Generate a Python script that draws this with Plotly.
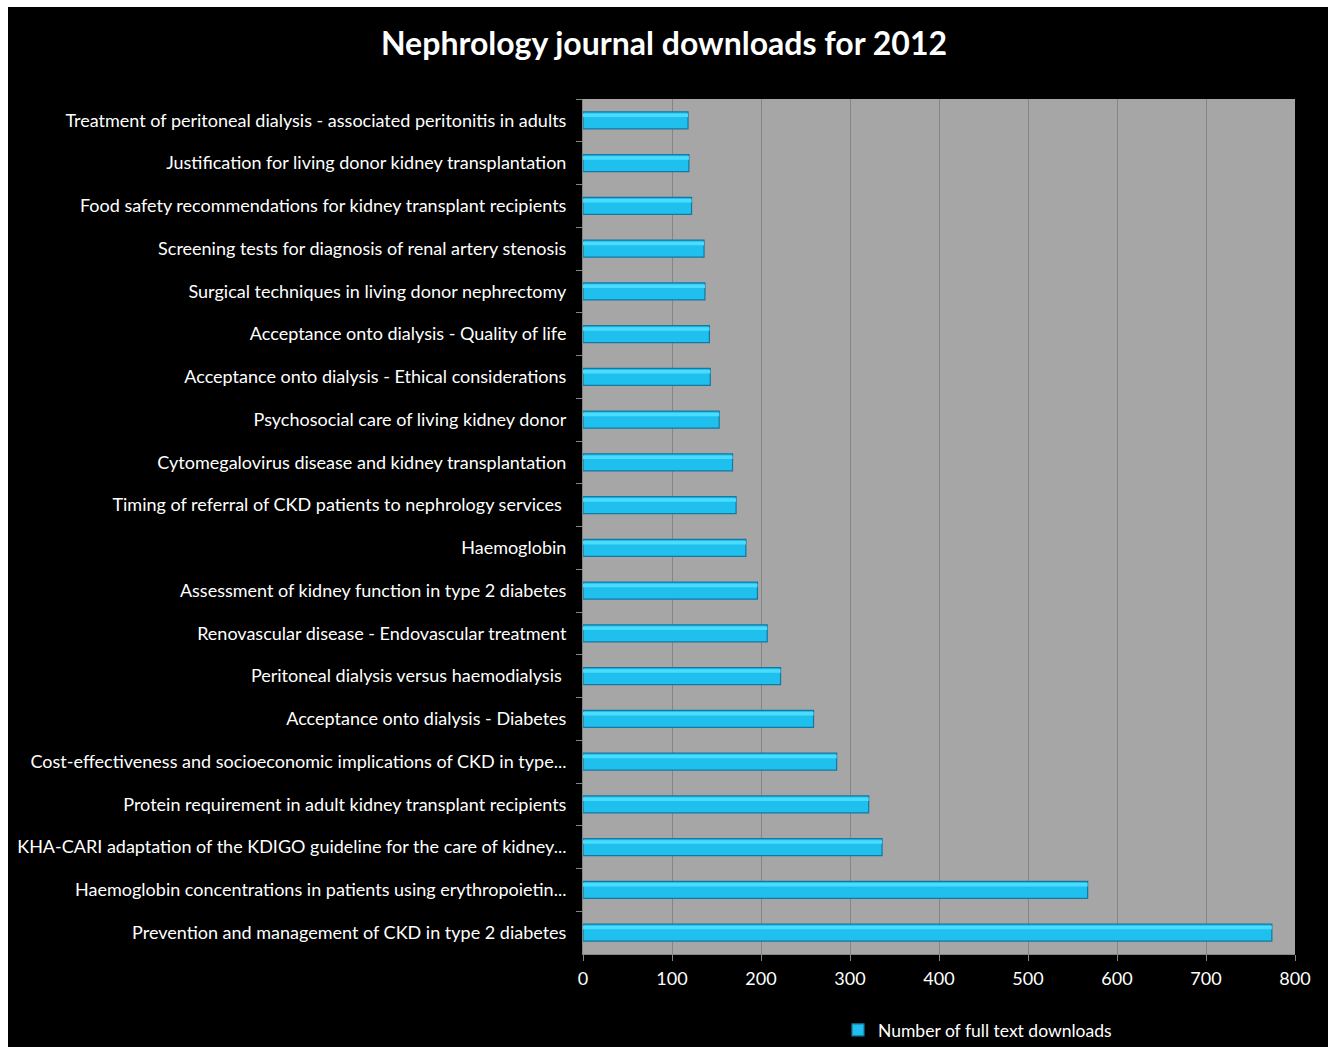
import plotly.graph_objects as go

title_text = "Nephrology journal downloads for 2012"
series_name = "Number of full text downloads"

categories = [
    "Treatment of peritoneal dialysis - associated peritonitis in adults",
    "Justification for living donor kidney transplantation",
    "Food safety recommendations for kidney transplant recipients",
    "Screening tests for diagnosis of renal artery stenosis",
    "Surgical techniques in living donor nephrectomy",
    "Acceptance onto dialysis - Quality of life",
    "Acceptance onto dialysis - Ethical considerations",
    "Psychosocial care of living kidney donor",
    "Cytomegalovirus disease and kidney transplantation",
    "Timing of referral of CKD patients to nephrology services ",
    "Haemoglobin",
    "Assessment of kidney function in type 2 diabetes",
    "Renovascular disease - Endovascular treatment",
    "Peritoneal dialysis versus haemodialysis ",
    "Acceptance onto dialysis - Diabetes",
    "Cost-effectiveness and socioeconomic implications of CKD in type...",
    "Protein requirement in adult kidney transplant recipients",
    "KHA-CARI adaptation of the KDIGO guideline for the care of kidney...",
    "Haemoglobin concentrations in patients using erythropoietin...",
    "Prevention and management of CKD in type 2 diabetes",
]
downloads = [118, 119, 122, 136, 137, 142, 143, 153, 168, 172,
             183, 196, 207, 222, 259, 285, 321, 336, 567, 774]
x_ticks = [0, 100, 200, 300, 400, 500, 600, 700, 800]

W, H = 1328, 1047
L, R, T, B = 583, 33, 99, 93
PW, PH = W - L - R, H - T - B

def px_x(p):
    return (p - L) / PW

def px_y(p):
    return (H - B - p) / PH

FONT = "Lato"

fig = go.Figure()
fig.add_trace(go.Bar(
    y=categories, x=downloads, orientation="h", name=series_name,
    width=0.4,
    marker=dict(color="#1fc0ee", line=dict(color="#1677a0", width=1.2)),
))
fig.add_trace(go.Bar(
    y=categories, x=downloads, orientation="h", name="highlight",
    width=0.08, offset=-0.16, showlegend=False, hoverinfo="skip",
    marker=dict(color="#4adcff", line=dict(width=0)),
))

fig.update_layout(
    width=W, height=H,
    barmode="overlay",
    margin=dict(l=L, r=R, t=T, b=B, pad=0, autoexpand=False),
    paper_bgcolor="white",
    plot_bgcolor="rgba(0,0,0,0)",
    font=dict(family=FONT, color="white", size=18),
    title=dict(text="<b>" + title_text + "</b>", x=0.5, xref="container",
               y=1 - 44 / H, yref="container", yanchor="middle", xanchor="center",
               font=dict(size=32, color="white", family=FONT)),
    showlegend=True,
    legend=dict(orientation="h", x=px_x(838), y=px_y(1030), xanchor="left",
                yanchor="middle", font=dict(size=17.5, color="white"),
                bgcolor="rgba(0,0,0,0)"),
    shapes=[
        dict(type="rect", xref="paper", yref="paper", layer="below",
             x0=px_x(8), x1=px_x(W + 2), y0=px_y(H + 2), y1=px_y(7),
             fillcolor="black", line=dict(width=0)),
        dict(type="rect", xref="paper", yref="paper", layer="below",
             x0=0, x1=1, y0=0, y1=1,
             fillcolor="#a6a6a6", line=dict(width=0)),
    ],
)

fig.update_xaxes(
    range=[0, 800], tickvals=x_ticks, showgrid=True, gridcolor="#858585", gridwidth=1,
    showline=True, linecolor="#868686", linewidth=1, mirror=False,
    ticks="outside", ticklen=6, tickcolor="#868686", ticklabelstandoff=2,
    tickfont=dict(size=18, color="white", family=FONT), zeroline=False,
)
fig.update_yaxes(
    type="category", autorange="reversed", tickson="boundaries",
    showline=True, linecolor="#868686", linewidth=1,
    ticks="outside", ticklen=6, tickcolor="#868686",
    showgrid=False, ticklabelstandoff=12,
    tickfont=dict(size=18, color="white", family=FONT),
)

fig.write_html("out.html", post_script="document.body.style.margin='0';",
               config={"displayModeBar": False})
